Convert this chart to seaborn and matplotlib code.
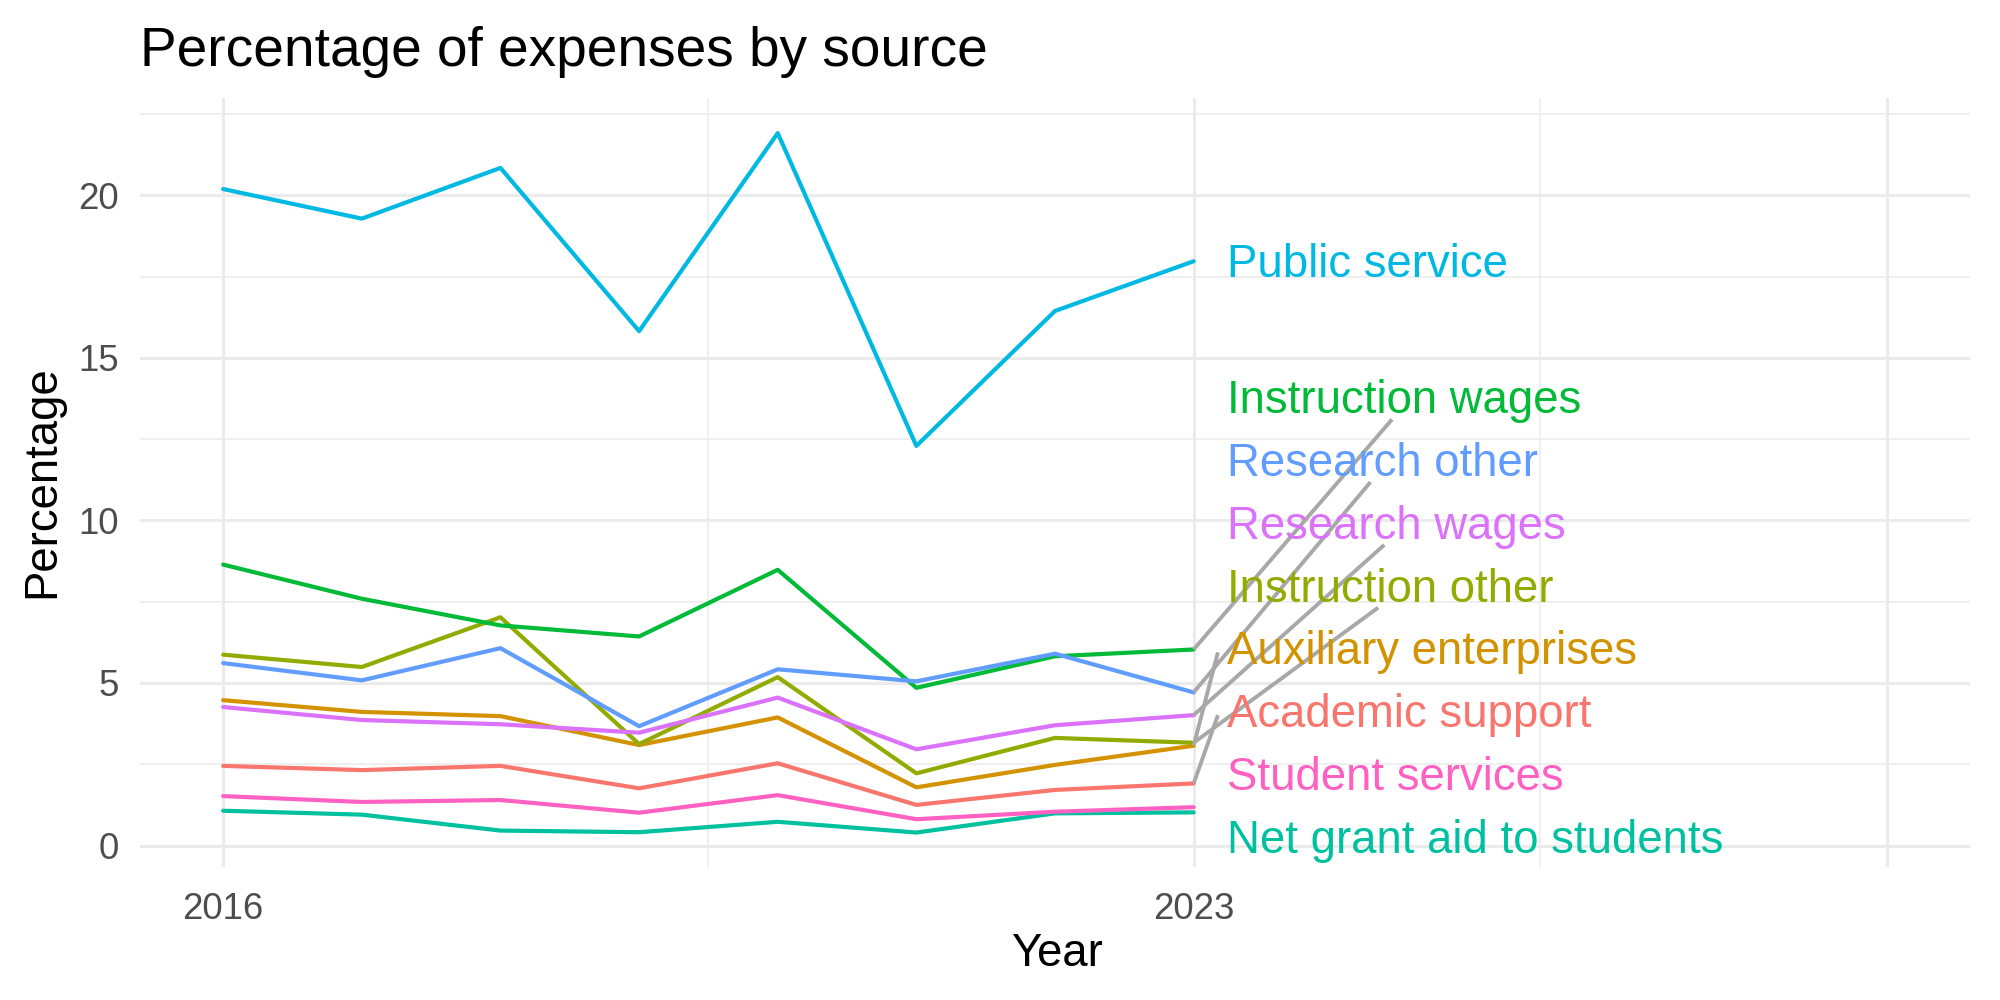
import numpy as np
import pandas as pd
import matplotlib
matplotlib.use('Agg')
import matplotlib.pyplot as plt
import seaborn as sns
from matplotlib.ticker import FixedLocator

# data
years = [2016, 2017, 2018, 2019, 2020, 2021, 2022, 2023]
sources = ['Academic support', 'Auxiliary enterprises', 'Instruction other',
           'Instruction wages', 'Net grant aid to students', 'Public service',
           'Research other', 'Research wages', 'Student services']
academic_support = [2.45, 2.32, 2.45, 1.76, 2.53, 1.25, 1.71, 1.91]
auxiliary_enterprises = [4.47, 4.11, 3.98, 3.09, 3.94, 1.79, 2.48, 3.07]
instruction_other = [5.87, 5.49, 7.02, 3.12, 5.18, 2.22, 3.31, 3.16]
instruction_wages = [8.64, 7.59, 6.77, 6.43, 8.48, 4.85, 5.82, 6.03]
net_grant_aid = [1.07, 0.95, 0.46, 0.41, 0.73, 0.40, 0.99, 1.02]
public_service = [20.19, 19.28, 20.84, 15.82, 21.91, 12.29, 16.44, 17.97]
research_other = [5.61, 5.08, 6.07, 3.67, 5.42, 5.05, 5.90, 4.71]
research_wages = [4.26, 3.86, 3.73, 3.47, 4.55, 2.96, 3.70, 4.01]
student_services = [1.52, 1.34, 1.40, 1.01, 1.55, 0.81, 1.04, 1.18]
x_tick_values = [2016, 2023, 2028]
x_tick_labels = ['2016', '2023', '']

colors = ['#F8766D', '#D39200', '#93AA00', '#00BA38', '#00C19F',
          '#00B9E3', '#619CFF', '#DB72FB', '#FF61C3']
palette = dict(zip(sources, colors))

series = [academic_support, auxiliary_enterprises, instruction_other,
          instruction_wages, net_grant_aid, public_service,
          research_other, research_wages, student_services]
df = pd.DataFrame([
    {'Year': y, 'Percentage': v, 'source': s}
    for s, vals in zip(sources, series) for y, v in zip(years, vals)
])

sns.set_theme(style='white')
plt.rcParams['font.family'] = ['Liberation Sans', 'DejaVu Sans']

fig, ax = plt.subplots(figsize=(10, 5), dpi=200)
fig.subplots_adjust(left=0.07, right=0.985, top=0.902, bottom=0.133)

sns.lineplot(data=df, x='Year', y='Percentage', hue='source', palette=palette,
             linewidth=1.5, legend=False, ax=ax, zorder=3)

ax.set_xlim(2015.4, 2028.6)
ax.set_ylim(-0.66, 22.99)
ax.set_xticks(x_tick_values, x_tick_labels)
ax.set_yticks([0, 5, 10, 15, 20])
ax.xaxis.set_minor_locator(FixedLocator([2019.5, 2025.5]))
ax.yaxis.set_minor_locator(FixedLocator([2.5, 7.5, 12.5, 17.5, 22.5]))
ax.grid(which='major', color='#EBEBEB', linewidth=1.1, zorder=0)
ax.grid(which='minor', color='#EBEBEB', linewidth=0.55, zorder=0)
ax.set_axisbelow(True)
ax.tick_params(which='both', length=0, labelsize=13.2, labelcolor='#4D4D4D')
ax.tick_params(axis='x', pad=9)
ax.tick_params(axis='y', pad=7.5)
sns.despine(ax=ax, left=True, bottom=True)
ax.set_xlabel('')
ax.set_ylabel('')

fig.text(0.07, 1 - 52 / 1000, 'Percentage of expenses by source',
         fontsize=19.8, ha='left', va='center', color='black')
fig.text(42 / 2000, 1 - 482 / 1000, 'Percentage', fontsize=16.4,
         rotation=90, ha='center', va='center', color='black')
fig.text(1057 / 2000, 1 - 954 / 1000, 'Year', fontsize=16.4,
         ha='center', va='center', color='black')

# end labels, stacked with a minimum gap (least squares, pool adjacent violators)
ends = np.array([s[-1] for s in series])
order = np.argsort(ends)
gap, floor = 1.93, 0.27
target = ends[order] - gap * np.arange(len(order))
blocks = []
for t in target:
    blocks.append([t, 1])
    while len(blocks) > 1 and blocks[-2][0] / blocks[-2][1] > blocks[-1][0] / blocks[-1][1]:
        v, n = blocks.pop()
        blocks[-1][0] += v
        blocks[-1][1] += n
z = np.concatenate([[b[0] / b[1]] * b[1] for b in blocks])
z = np.maximum(z, floor)
label_y = np.empty(len(ends))
label_y[order] = z + gap * np.arange(len(order))

label_x = 2023.24
texts = []
for i, s in enumerate(sources):
    texts.append(ax.text(label_x, label_y[i] - 0.12, s, color=colors[i], fontsize=16.4,
                         ha='left', va='center', zorder=5))

fig.canvas.draw()
renderer = fig.canvas.get_renderer()
inv = ax.transData.inverted()
for i, t in enumerate(texts):
    bb = t.get_window_extent(renderer)
    px, py = ax.transData.transform((years[-1], ends[i]))
    left = bb.x0 - 9
    cy = (bb.y0 + bb.y1) / 2
    if cy - py > 120:
        ex, ey = (bb.x0 + bb.x1) / 2 - 12, bb.y0 + 4
    else:
        ex, ey = left, cy
    if np.hypot(ex - px, ey - py) < 50:
        continue
    (x0, y0), (x1, y1) = inv.transform([(px, py), (ex, ey)])
    ax.plot([x0, x1], [y0, y1], color='#A8A8A8', linewidth=1.4, zorder=4,
            solid_capstyle='butt')

fig.savefig('out.png', dpi=200, facecolor='white')
